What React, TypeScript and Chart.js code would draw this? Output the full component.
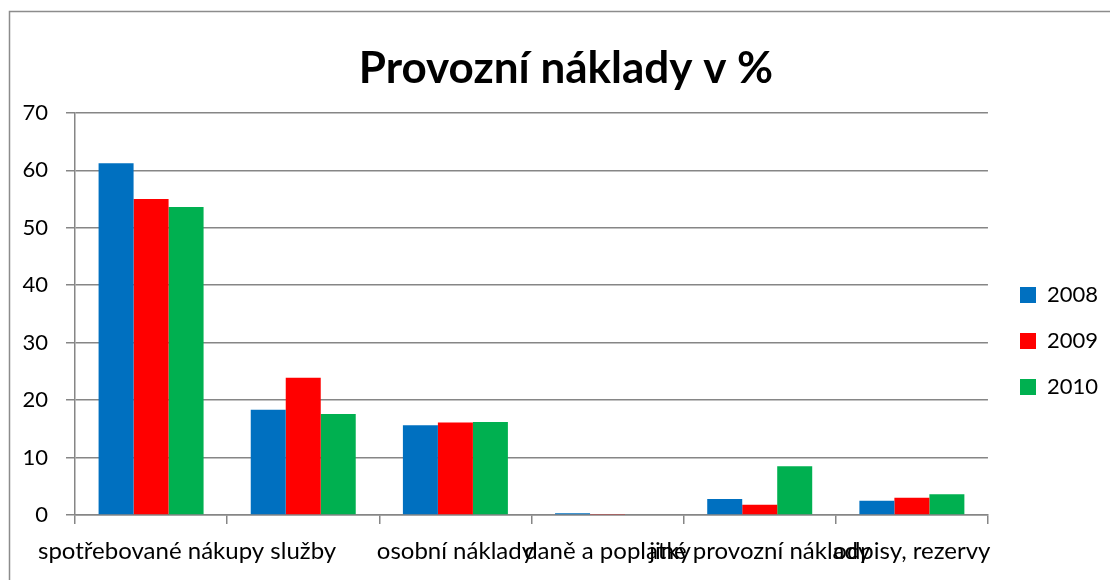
import React, { useEffect, useRef } from "react";
import { Chart, registerables } from "chart.js";

Chart.register(...registerables);

const categories = [
  "spotřebované nákupy",
  "služby",
  "osobní náklady",
  "daně a poplatky",
  "jiné provozní náklady",
  "odpisy, rezervy",
];
const years = ["2008", "2009", "2010"];
const values2008 = [61.2, 18.3, 15.6, 0.3, 2.8, 2.5];
const values2009 = [55.0, 23.9, 16.1, 0.1, 1.8, 3.0];
const values2010 = [53.6, 17.6, 16.2, 0.0, 8.5, 3.6];
const yTicks = [0, 10, 20, 30, 40, 50, 60, 70];

const colors = ["#0070C0", "#FF0000", "#00B050"];
const FONT = "Lato, 'Open Sans', sans-serif";

const borderPlugin = {
  id: "outerBorder",
  beforeDraw(chart: any) {
    const ctx = chart.ctx;
    ctx.save();
    ctx.fillStyle = "#ffffff";
    ctx.fillRect(0, 0, chart.width, chart.height);
    ctx.strokeStyle = "#8c8c8c";
    ctx.lineWidth = 1.5;
    ctx.strokeRect(9.5, 11.5, 1200, 700);
    ctx.restore();
  },
};

const layoutShift = {
  id: "layoutShift",
  afterLayout(chart: any) {
    const lg = chart.legend;
    if (lg) {
      const dy = 341 - (lg.top + lg.bottom) / 2;
      lg.top += dy;
      lg.bottom += dy;
      const dx = 996 - lg.left;
      lg.left += dx;
      lg.right += dx;
    }
    const tb = chart.titleBlock;
    if (tb) {
      const tx = 566 - (tb.left + tb.right) / 2;
      tb.left += tx;
      tb.right += tx;
    }
  },
};

export default function App() {
  const ref = useRef<HTMLCanvasElement>(null);
  useEffect(() => {
    if (!ref.current) return;
    const chart = new Chart(ref.current, {
      type: "bar",
      data: {
        labels: categories,
        datasets: [values2008, values2009, values2010].map((d, i) => ({
          label: years[i],
          data: d,
          backgroundColor: colors[i],
          borderWidth: 0,
          barPercentage: 1,
          categoryPercentage: 0.69,
        })),
      },
      options: {
        responsive: false,
        animation: false,
        devicePixelRatio: 1,
        layout: { padding: { left: 20, right: 10, top: 0, bottom: 0 } },
        plugins: {
          title: {
            display: true,
            text: "Provozní náklady v %",
            color: "#000",
            font: { family: FONT, size: 44, weight: "bold" },
            padding: { top: 42, bottom: 18 },
          },
          legend: {
            position: "right",
            align: "center",
            labels: {
              color: "#000",
              font: { family: FONT, size: 22 },
              boxWidth: 16,
              boxHeight: 16,
              padding: 24,
            },
          },
          tooltip: { enabled: false },
        },
        scales: {
          x: {
            grid: {
              display: true,
              drawOnChartArea: false,
              drawTicks: true,
              tickLength: 9,
              color: "#868686",
              lineWidth: 1.5,
              offset: true,
            },
            border: { display: true, color: "#868686", width: 1.5 },
            ticks: {
              autoSkip: false,
              maxRotation: 0,
              minRotation: 0,
              color: "#000",
              font: { family: FONT, size: 24 },
              padding: 13,
            },
            afterFit(scale: any) {
              scale.height = 65;
            },
          },
          y: {
            min: 0,
            max: 70,
            afterBuildTicks(scale: any) {
              scale.ticks = yTicks.map((v) => ({ value: v }));
            },
            grid: {
              color: "#868686",
              lineWidth: 1.5,
              tickLength: 9,
            },
            border: { display: true, color: "#868686", width: 1.5 },
            ticks: {
              color: "#000",
              font: { family: FONT, size: 22 },
              padding: 18,
            },
            afterFit(scale: any) {
              scale.width = 55;
            },
          },
        },
      },
      plugins: [borderPlugin, layoutShift],
    });
    return () => chart.destroy();
  }, []);
  return (
    <div style={{ position: "fixed", left: 0, top: 0, width: 1110, height: 580 }}>
      <canvas ref={ref} width={1110} height={580} style={{ width: 1110, height: 580 }} />
    </div>
  );
}
